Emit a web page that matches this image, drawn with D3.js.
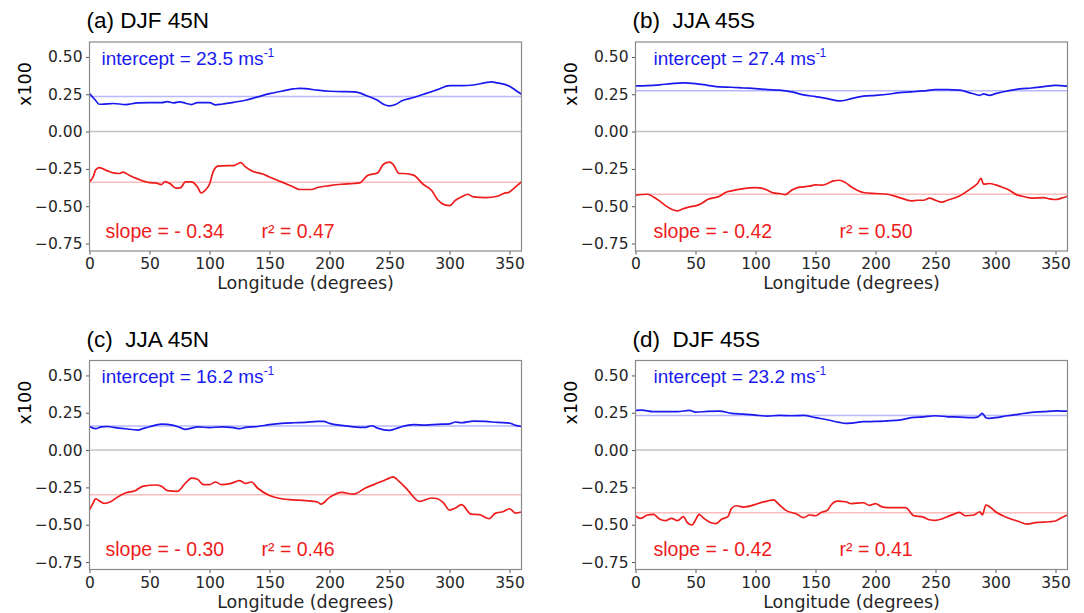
<!DOCTYPE html>
<html>
<head>
<meta charset="utf-8">
<script src="https://cdn.jsdelivr.net/npm/d3@7"></script>
<style>
  body { margin: 0; background: #fff; }
  svg { display: block; }
</style>
</head>
<body>
<div id="chart"></div>
<script>
// panel (a) DJF 45N
const aBlueLon = [0,5,8,10,20,30,40,50,60,65,70,75,80,85,90,100,105,110,120,130,140,150,160,170,175,180,190,200,210,220,225,230,235,240,245,250,255,260,270,280,290,300,310,320,330,335,340,350,355,360];
const aBlueVal = [0.254,0.210,0.183,0.183,0.188,0.181,0.192,0.194,0.194,0.201,0.192,0.199,0.190,0.181,0.194,0.194,0.179,0.183,0.196,0.210,0.232,0.254,0.270,0.286,0.290,0.288,0.277,0.270,0.268,0.266,0.259,0.243,0.228,0.210,0.183,0.172,0.181,0.205,0.228,0.254,0.281,0.308,0.308,0.312,0.328,0.333,0.326,0.304,0.277,0.250];
const aRedLon = [0,3,5,8,15,20,25,28,33,40,50,55,60,63,67,72,76,80,85,90,93,97,100,103,107,115,120,126,130,135,145,150,160,170,175,185,190,200,210,220,225,232,240,245,250,253,258,262,270,278,285,290,296,300,305,310,315,320,330,340,345,350,355,360];
const aRedVal = [-0.337,-0.304,-0.259,-0.241,-0.263,-0.277,-0.281,-0.272,-0.292,-0.317,-0.342,-0.344,-0.355,-0.335,-0.348,-0.379,-0.375,-0.337,-0.337,-0.371,-0.411,-0.388,-0.353,-0.270,-0.232,-0.228,-0.228,-0.208,-0.237,-0.263,-0.286,-0.304,-0.337,-0.371,-0.388,-0.388,-0.375,-0.362,-0.353,-0.348,-0.344,-0.292,-0.277,-0.219,-0.205,-0.219,-0.281,-0.281,-0.292,-0.353,-0.393,-0.455,-0.491,-0.496,-0.460,-0.438,-0.420,-0.438,-0.442,-0.433,-0.415,-0.404,-0.371,-0.337];

// panel (b) JJA 45S
const bBlueLon = [0,10,20,30,40,50,60,70,80,90,100,110,120,130,140,150,160,170,175,180,190,200,210,220,230,240,250,260,270,280,287,290,295,300,310,320,330,340,350,360];
const bBlueVal = [0.306,0.308,0.313,0.321,0.326,0.321,0.310,0.299,0.297,0.292,0.288,0.281,0.277,0.266,0.246,0.234,0.221,0.205,0.210,0.221,0.237,0.243,0.250,0.261,0.266,0.272,0.281,0.281,0.277,0.257,0.243,0.252,0.243,0.254,0.272,0.286,0.292,0.301,0.310,0.304];
const bRedLon = [0,10,15,20,25,30,35,40,45,50,55,60,70,75,80,90,100,105,110,115,120,125,130,135,145,150,155,160,165,170,175,180,190,200,210,220,230,235,240,245,250,255,260,270,280,285,288,290,295,300,305,310,318,325,330,340,345,350,355,360];
const bRedVal = [-0.426,-0.420,-0.438,-0.464,-0.496,-0.520,-0.531,-0.516,-0.504,-0.498,-0.482,-0.455,-0.433,-0.408,-0.397,-0.382,-0.375,-0.379,-0.393,-0.411,-0.415,-0.422,-0.393,-0.375,-0.366,-0.357,-0.359,-0.348,-0.330,-0.326,-0.342,-0.371,-0.408,-0.415,-0.420,-0.442,-0.464,-0.460,-0.460,-0.446,-0.460,-0.473,-0.460,-0.431,-0.379,-0.348,-0.313,-0.353,-0.348,-0.357,-0.371,-0.386,-0.424,-0.438,-0.446,-0.442,-0.451,-0.455,-0.446,-0.433];

// panel (c) JJA 45N
const cBlueLon = [0,5,10,15,20,30,40,45,50,60,70,75,80,85,90,100,110,120,125,130,140,150,160,170,180,190,195,200,210,220,230,235,240,250,255,260,270,280,290,300,305,310,320,330,340,350,355,360];
const cBlueVal = [0.158,0.143,0.156,0.158,0.152,0.143,0.134,0.145,0.156,0.174,0.165,0.152,0.138,0.147,0.156,0.150,0.156,0.150,0.143,0.152,0.158,0.170,0.179,0.183,0.185,0.192,0.192,0.179,0.165,0.156,0.152,0.163,0.147,0.132,0.143,0.156,0.170,0.167,0.172,0.176,0.188,0.183,0.194,0.192,0.185,0.181,0.165,0.158];
const cRedLon = [0,3,5,8,12,18,23,30,38,45,55,60,65,73,80,85,90,95,100,105,110,118,125,130,135,140,150,160,170,180,190,193,200,210,220,230,240,245,250,253,258,265,275,285,290,295,300,305,310,318,325,333,338,345,350,355,360];
const cRedVal = [-0.400,-0.355,-0.326,-0.339,-0.357,-0.344,-0.317,-0.288,-0.272,-0.241,-0.234,-0.243,-0.272,-0.277,-0.221,-0.188,-0.196,-0.232,-0.232,-0.214,-0.232,-0.223,-0.205,-0.223,-0.214,-0.254,-0.304,-0.326,-0.333,-0.339,-0.348,-0.362,-0.317,-0.283,-0.295,-0.254,-0.221,-0.205,-0.188,-0.179,-0.210,-0.266,-0.344,-0.321,-0.326,-0.353,-0.402,-0.388,-0.366,-0.429,-0.433,-0.460,-0.424,-0.411,-0.393,-0.422,-0.415];

// panel (d) DJF 45S
const dBlueLon = [0,5,15,25,35,45,50,60,70,80,90,100,110,120,130,140,150,160,170,175,180,190,200,210,220,230,240,250,260,270,280,285,289,292,295,300,310,320,330,340,350,360];
const dBlueVal = [0.266,0.268,0.257,0.257,0.257,0.266,0.254,0.259,0.261,0.246,0.241,0.234,0.228,0.232,0.230,0.232,0.217,0.203,0.185,0.179,0.181,0.190,0.192,0.196,0.201,0.217,0.223,0.230,0.223,0.221,0.217,0.221,0.246,0.217,0.212,0.217,0.230,0.241,0.252,0.257,0.263,0.261];
const dRedLon = [0,4,10,15,20,25,30,35,40,43,47,50,53,57,62,67,72,77,80,84,90,100,105,110,115,120,125,135,140,145,150,155,160,163,168,175,180,190,195,200,205,210,220,225,232,240,245,250,255,260,265,270,275,282,287,289,292,295,300,310,320,326,335,345,350,355,360];
const dRedVal = [-0.440,-0.458,-0.435,-0.431,-0.462,-0.473,-0.458,-0.473,-0.446,-0.484,-0.502,-0.469,-0.431,-0.458,-0.484,-0.493,-0.462,-0.446,-0.391,-0.373,-0.382,-0.364,-0.350,-0.342,-0.333,-0.368,-0.402,-0.431,-0.453,-0.435,-0.440,-0.417,-0.402,-0.368,-0.342,-0.346,-0.359,-0.353,-0.371,-0.359,-0.379,-0.386,-0.386,-0.386,-0.440,-0.449,-0.467,-0.471,-0.462,-0.446,-0.431,-0.417,-0.440,-0.435,-0.413,-0.435,-0.368,-0.379,-0.413,-0.453,-0.480,-0.496,-0.484,-0.480,-0.475,-0.453,-0.435];

const titles = ["(a) DJF 45N", "(b)  JJA 45S", "(c)  JJA 45N", "(d)  DJF 45S"];
const intercepts = ["23.5", "27.4", "16.2", "23.2"];
const slopes = ["0.34", "0.42", "0.30", "0.42"];
const rsquared = ["0.47", "0.50", "0.46", "0.41"];
const xTicks = [0, 50, 100, 150, 200, 250, 300, 350];
const yTicks = [-0.75, -0.5, -0.25, 0, 0.25, 0.5];

const W = 1084, H = 613;
const pw = 432, ph = 209;
const panels = [
  {left: 89.5, top: 42, blue: [aBlueLon, aBlueVal], red: [aRedLon, aRedVal], ix: 12, sx: 16, rx: 172},
  {left: 635.5, top: 42, blue: [bBlueLon, bBlueVal], red: [bRedLon, bRedVal], ix: 18, sx: 18, rx: 204},
  {left: 89.5, top: 360.5, blue: [cBlueLon, cBlueVal], red: [cRedLon, cRedVal], ix: 12, sx: 16, rx: 172},
  {left: 635.5, top: 360.5, blue: [dBlueLon, dBlueVal], red: [dRedLon, dRedVal], ix: 18, sx: 18, rx: 204}
];

const blue = "#1a1aee", red = "#ee1c1c";
const sans = "'Liberation Sans', Arial, Helvetica, sans-serif";
const dv = "'DejaVu Sans', sans-serif";

const svg = d3.select("#chart").append("svg")
  .attr("width", W).attr("height", H);

const x = d3.scaleLinear().domain([0, 360]).range([0, pw]);
const y = d3.scaleLinear().domain([-0.8, 0.6]).range([ph, 0]);

const line = d3.line()
  .curve(d3.curveMonotoneX)
  .x(d => x(d[0]))
  .y(d => y(d[1]));

panels.forEach((p, i) => {
  const g = svg.append("g").attr("transform", `translate(${p.left},${p.top})`);

  // reference lines
  g.append("line").attr("x1", 0).attr("x2", pw)
    .attr("y1", y(0)).attr("y2", y(0))
    .attr("stroke", "#c4c4c4").attr("stroke-width", 1.6);
  g.append("line").attr("x1", 0).attr("x2", pw)
    .attr("y1", y(+intercepts[i] / 100)).attr("y2", y(+intercepts[i] / 100))
    .attr("stroke", "#b8b8fb").attr("stroke-width", 1.5);
  g.append("line").attr("x1", 0).attr("x2", pw)
    .attr("y1", y(-slopes[i])).attr("y2", y(-slopes[i]))
    .attr("stroke", "#fbbcbc").attr("stroke-width", 1.5);

  const bData = p.blue[0].map((lon, k) => [lon, p.blue[1][k]]);
  const rData = p.red[0].map((lon, k) => [lon, p.red[1][k]]);

  g.append("path").datum(bData)
    .attr("fill", "none").attr("stroke", blue)
    .attr("stroke-width", 1.7).attr("stroke-linejoin", "round")
    .attr("d", line);
  g.append("path").datum(rData)
    .attr("fill", "none").attr("stroke", red)
    .attr("stroke-width", 1.7).attr("stroke-linejoin", "round")
    .attr("d", line);

  // axes
  const xa = g.append("g").attr("transform", `translate(0,${ph})`)
    .call(d3.axisBottom(x).tickValues(xTicks).tickSize(3.5).tickPadding(3.5).tickFormat(d3.format("d")));
  const ya = g.append("g")
    .call(d3.axisLeft(y).tickValues(yTicks).tickSize(3.5).tickPadding(3.5).tickFormat(d3.format(".2f")));
  [xa, ya].forEach(a => {
    a.select(".domain").remove();
    a.selectAll(".tick line").attr("stroke", "#555");
    a.selectAll(".tick text").attr("fill", "#262626")
      .attr("font-family", dv).attr("font-size", 15.5);
  });

  g.append("rect").attr("width", pw).attr("height", ph)
    .attr("fill", "none").attr("stroke", "#8a8a8a").attr("stroke-width", 1.2);

  // labels
  g.append("text").attr("x", pw / 2).attr("y", ph + 38)
    .attr("text-anchor", "middle").attr("font-family", dv)
    .attr("font-size", 17.5).attr("fill", "#262626")
    .text("Longitude (degrees)");
  g.append("text")
    .attr("transform", `translate(-59,42) rotate(-90)`)
    .attr("text-anchor", "middle").attr("font-family", dv)
    .attr("font-size", 17.5).attr("fill", "#000")
    .text("x100");
  g.append("text").attr("x", -3).attr("y", -14)
    .attr("font-family", sans).attr("font-size", 22.5).attr("fill", "#000")
    .attr("xml:space", "preserve")
    .text(titles[i]);

  const it = g.append("text").attr("x", p.ix).attr("y", 22.5)
    .attr("font-family", sans).attr("font-size", 19).attr("fill", blue);
  it.append("tspan").text(`intercept = ${intercepts[i]} ms`);
  it.append("tspan").attr("font-size", 12).attr("dy", -8).text("-1");

  g.append("text").attr("x", p.sx).attr("y", 195.5)
    .attr("font-family", sans).attr("font-size", 19.5).attr("fill", red)
    .text(`slope = - ${slopes[i]}`);
  g.append("text").attr("x", p.rx).attr("y", 195.5)
    .attr("font-family", sans).attr("font-size", 19.5).attr("fill", red)
    .text(`r\u00b2 = ${rsquared[i]}`);
});
</script>
</body>
</html>
